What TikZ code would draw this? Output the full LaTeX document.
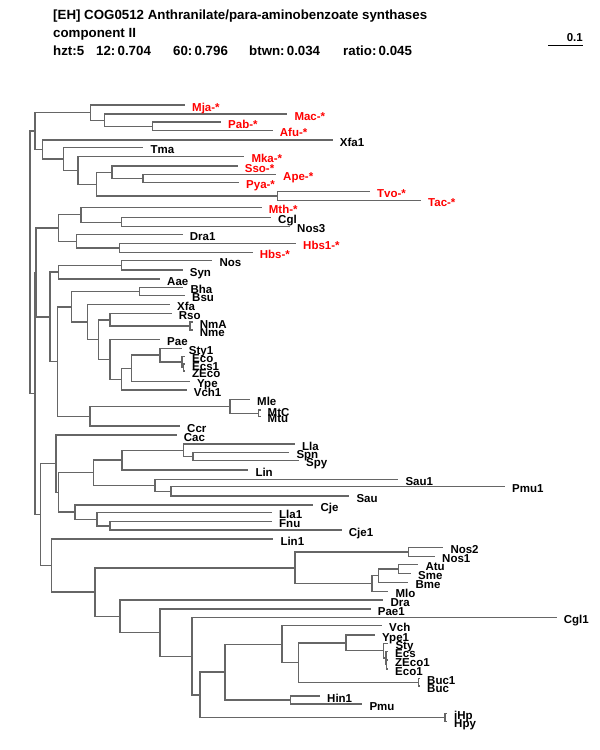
\documentclass[tikz,border=0pt]{standalone}
\usepackage{fontspec}
\setmainfont{Liberation Sans}
\definecolor{brgray}{RGB}{102,102,102}
\definecolor{lred}{RGB}{255,0,0}
\newcommand\lblfont{\fontsize{11.5}{13}\selectfont\bfseries}
\newcommand\ttlfont{\fontsize{13.3}{15}\selectfont\bfseries}
\begin{document}
\begin{tikzpicture}[x=1pt,y=-1pt,
 br/.style={draw=brgray,line width=1.4pt},
 lbl/.style={anchor=base west,inner sep=0pt,font=\lblfont,text=black},
 rlbl/.style={lbl,text=lred},
 ttl/.style={anchor=base west,inner sep=0pt,font=\ttlfont}]
\useasboundingbox (0,0) rectangle (600,750);
\fill[white] (0,0) rectangle (600,750);
% ---- title ----
\node[ttl] (title1) at (53,19) {[EH] COG0512 Anthranilate/para-aminobenzoate synthases};
\node[ttl] (title2) at (53,37) {component II};
\node[ttl] (st1) at (53,55) {hzt:5};
\node[ttl] (st2) at (96,55) {12:\,0.704};
\node[ttl] (st3) at (173,55) {60:\,0.796};
\node[ttl] (st4) at (249,55) {btwn:\,0.034};
\node[ttl] (st5) at (343,55) {ratio:\,0.045};
% scale bar
\coordinate (sb1) at (548,45);
\coordinate (sb2) at (583,45);
\draw[black,line width=1pt] (sb1) -- (sb2);
\node[anchor=base east,inner sep=0pt,font=\lblfont] (sbl) at (583,41) {0.1};
% ---- coordinates ----
\foreach \n/\x/\y in {
 R0/30/262.3, T0/35/131, T1/90.7/112.6, Mja/185/105, T3/104.3/120.2, Mac/287.3/114,
 T4/152.3/126.3, Pab/221/122, Afu/272.7/130.7, T2/42.7/149.5, Xfa1/332.7/140,
 T5/63.3/159, Tma/143.3/147.7, T6/78/170.4, Mka/244.3/156.7, T7/96.3/184.2,
 T8/112/172.3, Sso/237.7/166, T10/143/178.7, Ape/276/174.7, Pya/239/182.7,
 T9/277.7/196, Tvo/370/191.7, Tac/421/200.3,
 Q/35/393.5, P/36/272.4, G1/58.3/228, G2/81/214.7, Mth/261.7/207.7, G4/121.7/222.2,
 Cgl/271/217.7, Nos3/290/226.7, G3/76.7/241.3, Dra1/182.7/234.3, G5/119.3/248,
 Hbs1/296/243.3, Hbs/252.7/252.7,
 S/50/316.9, S1/58.3/272, SN/121.7/265.3, Nos/212.3/260.7, Syn/182.7/270, Aae/160/279,
 U/57.3/361.5, V/71.7/306.8, BB/139.3/291.5, Bha/183.3/287.3, Bsu/185/295.7,
 X/87.3/322, Xfa/170/304.3, Y/98.3/339.6, Rs/110/320, Rso/171.7/313.3,
 Nm/190/326, NmA/192.7/322, Nme/192.7/330, Z/110/359.2, Pae/160/339.3,
 AC/121.7/379.2, AB/131.7/368.3, AD/160/355, Sty1/181.7/348.3, AE/182/362.1,
 Eco/185/356.7, AF/183.5/367.5, Ecs1/185/364, ZEco/185/371, Ype/190/381.7, Vch1/186.7/390,
 W/90/416.2, ML/230/406.3, Mle/250/399.3, MM/258.3/413.3, MtC/260.5/410, Mtu/260.5/416.7,
 Ccr/180/426,
 A/40.7/514.6, B/56/463.7, Cac/176.7/435, C/58.3/492.4, D/93.3/472.7, E/122/460,
 F/183.3/450.3, Lla/295/444, G/193/456.7, Spn/289.3/452.7, Spy/299/460.7, Lin/248.3/470,
 H/155/485.5, Sau1/398.3/479.3, I/171/491.3, Pmu1/505/486.7, Sau/349.3/496,
 J/75/512, Cje/313.3/505, K/97/519.3, Lla1/272/512.7, L/110/525.9, Fnu/272/521.7, Cje1/341.7/530,
 M/51.7/565.5, Lin1/273.3/539, N/95/592.1, O/295/567.9, NN/408.3/552, Nos2/443.3/547.3,
 Nos1/435/556.7, P2/372/583.7, P3/378.3/575.7, P4/398.3/569, Atu/418.3/564.7, Sme/411/573.3,
 Bme/408.3/582.3, Mlo/388.3/591.7, BQ/120/616.3, Dra/383.3/600, BR/160/632.6,
 Pae1/370.7/609, BS/192/656.3, Cgl1/556.7/617.7, BT/200/694.9, BU/225/672.1,
 BV/282/644.2, Vch/382/625.7, BW/298.3/662.6, BX/346/642.8, Ype1/375/635,
 BY/383.3/650.7, Sty/388.3/643.3, BZ/386/658, Ecs/388/651.7, BZ3/386.5/664.5,
 ZEco1/388/660, Eco1/388/669, Bu/418.3/682.2, Buc1/420/678.3, Buc/420/686,
 Hin/290.7/700, Hin1/320/696, Pmu/362.3/704, Hpn/445/717.5, iHp/447/713.3, Hpy/447/721.7}
 \coordinate (\n) at (\x,\y);
% ---- branches ----
\foreach \p/\c in {
 R0/T0, R0/Q,
 T0/T1, T0/T2, T1/Mja, T1/T3, T3/Mac, T3/T4, T4/Pab, T4/Afu, T2/Xfa1, T2/T5, T5/Tma, T5/T6,
 T6/Mka, T6/T7, T7/T8, T7/T9, T8/Sso, T8/T10, T10/Ape, T10/Pya, T9/Tvo, T9/Tac,
 Q/P, Q/A, P/G1, P/S, G1/G2, G1/G3, G2/Mth, G2/G4, G4/Cgl, G4/Nos3, G3/Dra1, G3/G5,
 G5/Hbs1, G5/Hbs,
 S/S1, S/U, S1/SN, S1/Aae, SN/Nos, SN/Syn, U/V, U/W, V/BB, V/X, BB/Bha, BB/Bsu, X/Xfa, X/Y,
 Y/Rs, Y/Z, Rs/Rso, Rs/Nm, Nm/NmA, Nm/Nme, Z/Pae, Z/AC, AC/AB, AC/Vch1, AB/AD, AB/Ype,
 AD/Sty1, AD/AE, AE/Eco, AE/AF, AF/Ecs1, AF/ZEco, W/ML, W/Ccr, ML/Mle, ML/MM, MM/MtC, MM/Mtu,
 A/B, A/M, B/Cac, B/C, C/D, C/J, D/E, D/H, E/F, E/Lin, F/Lla, F/G, G/Spn, G/Spy, H/Sau1, H/I,
 I/Pmu1, I/Sau, J/Cje, J/K, K/Lla1, K/L, L/Fnu, L/Cje1,
 M/Lin1, M/N, N/O, N/BQ, O/NN, O/P2, NN/Nos2, NN/Nos1, P2/P3, P2/Mlo, P3/P4, P3/Bme,
 P4/Atu, P4/Sme, BQ/Dra, BQ/BR, BR/Pae1, BR/BS, BS/Cgl1, BS/BT, BT/BU, BT/Hpn, BU/BV, BU/Hin,
 BV/Vch, BV/BW, BW/BX, BW/Bu, BX/Ype1, BX/BY, BY/Sty, BY/BZ, BZ/Ecs, BZ/BZ3, BZ3/ZEco1,
 BZ3/Eco1, Bu/Buc1, Bu/Buc, Hin/Hin1, Hin/Pmu, Hpn/iHp, Hpn/Hpy}
 \draw[br] (\p) |- (\c);
% ---- leaf labels ----
\foreach \n in {Mja,Mac,Pab,Afu,Mka,Sso,Ape,Pya,Tvo,Tac,Mth,Hbs1,Hbs}
 \node[rlbl] (l\n) at ([xshift=7pt,yshift=-6pt]\n) {\n-*};
\foreach \n in {Xfa1,Tma,Cgl,Nos3,Dra1,Nos,Syn,Aae,Bha,Bsu,Xfa,Rso,NmA,Nme,Pae,Sty1,Eco,Ecs1,
 ZEco,Ype,Vch1,Mle,MtC,Mtu,Ccr,Cac,Lla,Spn,Spy,Lin,Sau1,Pmu1,Sau,Cje,Lla1,Fnu,Cje1,Lin1,
 Nos2,Nos1,Atu,Sme,Bme,Mlo,Dra,Pae1,Cgl1,Vch,Ype1,Sty,Ecs,ZEco1,Eco1,Buc1,Buc,Hin1,Pmu,iHp,Hpy}
 \node[lbl] (l\n) at ([xshift=7pt,yshift=-6pt]\n) {\n};
\end{tikzpicture}
\end{document}
